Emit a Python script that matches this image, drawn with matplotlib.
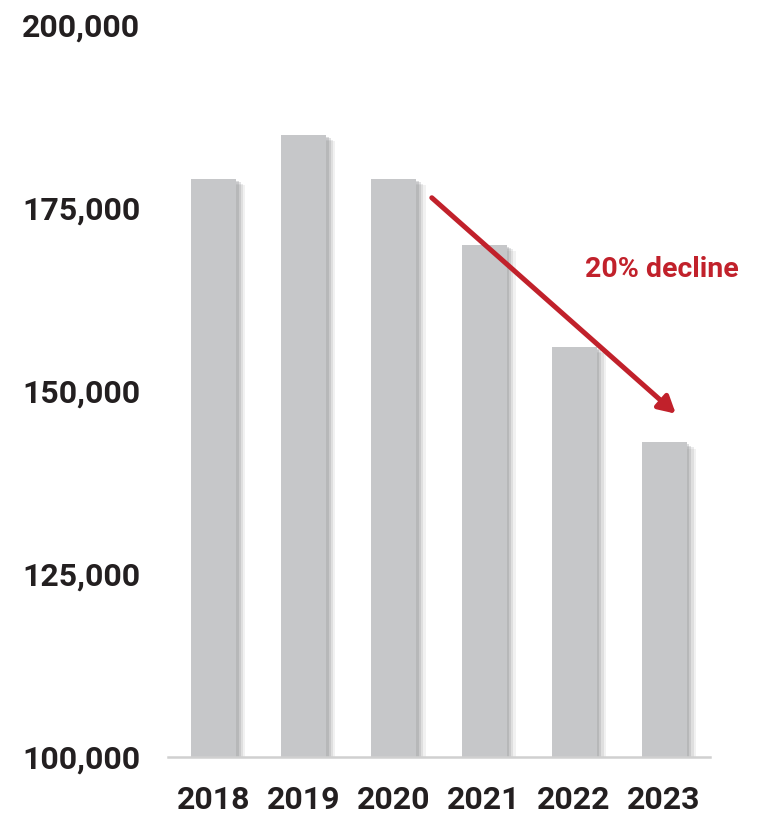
import matplotlib
matplotlib.use("Agg")
import matplotlib.pyplot as plt
import matplotlib.patheffects as pe
from matplotlib.ticker import FuncFormatter

years = ["2018", "2019", "2020", "2021", "2022", "2023"]
values = [179000, 185000, 179000, 170000, 156000, 143000]
yticks = [100000, 125000, 150000, 175000, 200000]

bar_color = "#c6c7c9"
red = "#c1212b"
text_color = "#231f20"

plt.rcParams['font.family'] = ['Roboto', 'DejaVu Sans']

fig = plt.figure(figsize=(7.58, 8.14), dpi=100)
ax = fig.add_axes([0.2216, 0.070, 0.7151, 0.8993])

# soft shadow on the right of each bar
shadow = [pe.SimplePatchShadow(offset=(d, -d * 0.7), shadow_rgbFace="#8e8f92", alpha=a)
          for d, a in [(6.5, 0.12), (5, 0.18), (3.5, 0.25), (2, 0.3)]]
bars = ax.bar(range(len(years)), values, width=0.5, color=bar_color, zorder=2)
for b in bars:
    b.set_path_effects(shadow + [pe.Normal()])

ax.set_ylim(100000, 200000)
ax.set_xlim(-0.51, 5.51)
ax.set_yticks(yticks)
ax.yaxis.set_major_formatter(FuncFormatter(lambda v, p: f"{int(v):,}"))
ax.set_xticks(range(len(years)))
ax.set_xticklabels(years)

for s in ["top", "right", "left"]:
    ax.spines[s].set_visible(False)
ax.spines["bottom"].set_color("#d0d0d0")
ax.spines["bottom"].set_linewidth(1.8)
ax.spines["bottom"].set_zorder(3)
ax.tick_params(length=0, labelsize=23, colors=text_color)
ax.tick_params(axis="y", pad=20)
ax.tick_params(axis="x", pad=20)
for lbl in ax.get_xticklabels() + ax.get_yticklabels():
    lbl.set_fontweight("bold")

ax.annotate("", xy=(5.13, 146900), xytext=(2.42, 176400),
            arrowprops=dict(arrowstyle="-|>,head_length=1.0,head_width=0.55",
                            color=red, lw=3.6, shrinkA=0, shrinkB=0), zorder=4)
ax.text(4.97, 166600, "20% decline", color=red, fontsize=20.5, fontweight="bold",
        ha="center", va="center")

fig.savefig("out.png", dpi=100)
